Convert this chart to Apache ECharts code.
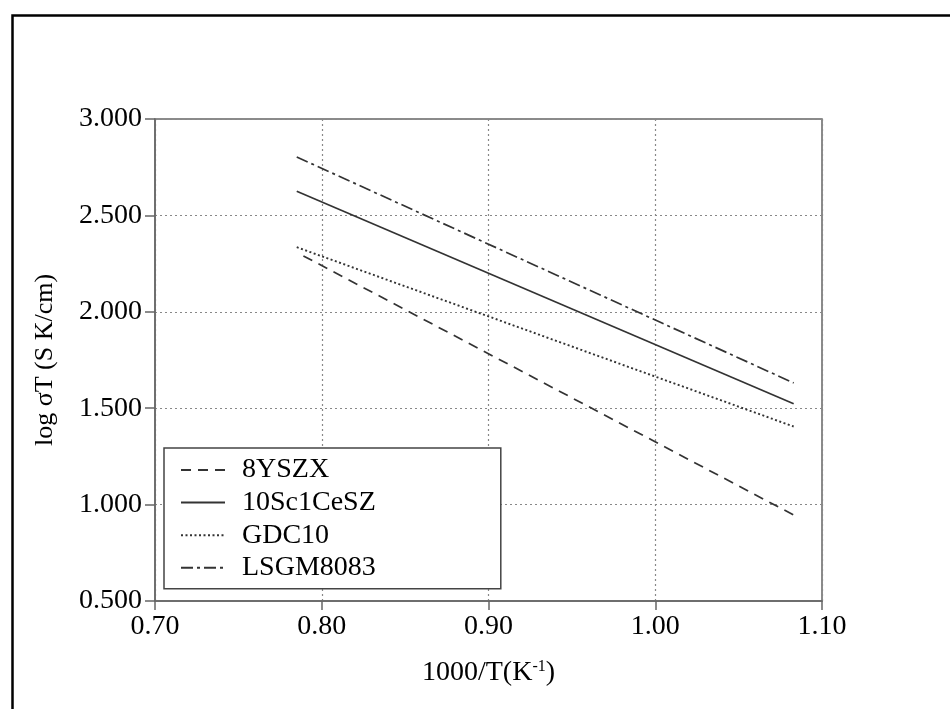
<!DOCTYPE html>
<html><head><meta charset="utf-8">
<script src="https://cdn.jsdelivr.net/npm/echarts@6/dist/echarts.min.js"></script>
<style>html,body{margin:0;padding:0;background:#fff}#c{width:950px;height:709px}</style>
</head><body><div id="c"></div>
<script>
// Data (x = 1000/T, y = log σT)
const seriesNames = ['8YSZX', '10Sc1CeSZ', 'GDC10', 'LSGM8083'];
const ysz8X = [0.789, 1.083];
const ysz8Y = [2.290, 0.946];
const sc10X = [0.785, 1.083];
const sc10Y = [2.625, 1.523];
const gdc10X = [0.785, 1.083];
const gdc10Y = [2.335, 1.405];
const lsgmX = [0.785, 1.083];
const lsgmY = [2.803, 1.631];
const xTicks = [0.70, 0.80, 0.90, 1.00, 1.10];
const yTicks = [0.5, 1.0, 1.5, 2.0, 2.5, 3.0];

const pairs = (xs, ys) => xs.map((x, i) => [x, ys[i]]);
const FONT = '"Liberation Serif", "DejaVu Serif", serif';
const lineColor = '#333';
const styles = [
  { type: [10, 7], width: 1.7 },
  { type: 'solid', width: 1.7 },
  { type: [2, 2.5], width: 1.9 },
  { type: [12, 4, 3, 4], width: 1.7 }
];
const datasets = [pairs(ysz8X, ysz8Y), pairs(sc10X, sc10Y), pairs(gdc10X, gdc10Y), pairs(lsgmX, lsgmY)];

const chart = echarts.init(document.getElementById('c'), null, { renderer: 'canvas' });
chart.setOption({
  backgroundColor: '#fff',
  animation: false,
  graphic: [{
    type: 'rect', left: 10, top: 13, z: 100, silent: true,
    shape: { width: 960, height: 720 },
    style: { fill: 'none', stroke: '#000', lineWidth: 2.5 }
  }],
  grid: { left: 155, right: 128, top: 119, bottom: 108, show: true, borderColor: '#666', borderWidth: 1.5 },
  legend: {
    orient: 'vertical', left: 164, top: 448,
    data: seriesNames,
    itemWidth: 44, itemHeight: 14, itemGap: 4.6,
    padding: [8, 125, 7, 16],
    borderColor: '#444', borderWidth: 1.5, backgroundColor: '#fff',
    itemStyle: { color: 'rgba(0,0,0,0)', borderWidth: 0, opacity: 0 },
    textStyle: { fontFamily: FONT, fontSize: 28, color: '#000', padding: [0, 0, 0, 12] }
  },
  xAxis: {
    type: 'value', min: 0.7, max: 1.1, interval: 0.1,
    name: '1000/T(K{sup|-1})', nameLocation: 'middle', nameGap: 58,
    nameTextStyle: { fontFamily: FONT, fontSize: 28, color: '#000',
      rich: { sup: { fontFamily: FONT, fontSize: 16, color: '#000', verticalAlign: 'top', padding: [0, 0, 12, 0] } } },
    axisLine: { show: true, lineStyle: { color: '#666', width: 1.5 } },
    axisTick: { show: true, inside: false, length: 9, lineStyle: { color: '#666', width: 1.5 } },
    axisLabel: { fontFamily: FONT, fontSize: 28, color: '#000', margin: 12,
      formatter: v => v.toFixed(2) },
    splitLine: { show: true, lineStyle: { color: '#888', type: [2, 3], width: 1.2 } }
  },
  yAxis: {
    type: 'value', min: 0.5, max: 3.0, interval: 0.5,
    name: 'log σT (S K/cm)', nameLocation: 'middle', nameGap: 97,
    nameTextStyle: { fontFamily: FONT, fontSize: 26, color: '#000' },
    axisLine: { show: true, lineStyle: { color: '#666', width: 1.5 } },
    axisTick: { show: true, inside: false, length: 10, lineStyle: { color: '#666', width: 1.5 } },
    axisLabel: { fontFamily: FONT, fontSize: 28, color: '#000', margin: 13,
      formatter: v => v.toFixed(3) },
    splitLine: { show: true, lineStyle: { color: '#888', type: [2, 3], width: 1.2 } }
  },
  series: seriesNames.map((n, i) => ({
    name: n, type: 'line', data: datasets[i], showSymbol: false, symbol: 'none',
    lineStyle: { color: lineColor, width: styles[i].width, type: styles[i].type },
    itemStyle: { color: lineColor }
  }))
});
</script></body></html>
